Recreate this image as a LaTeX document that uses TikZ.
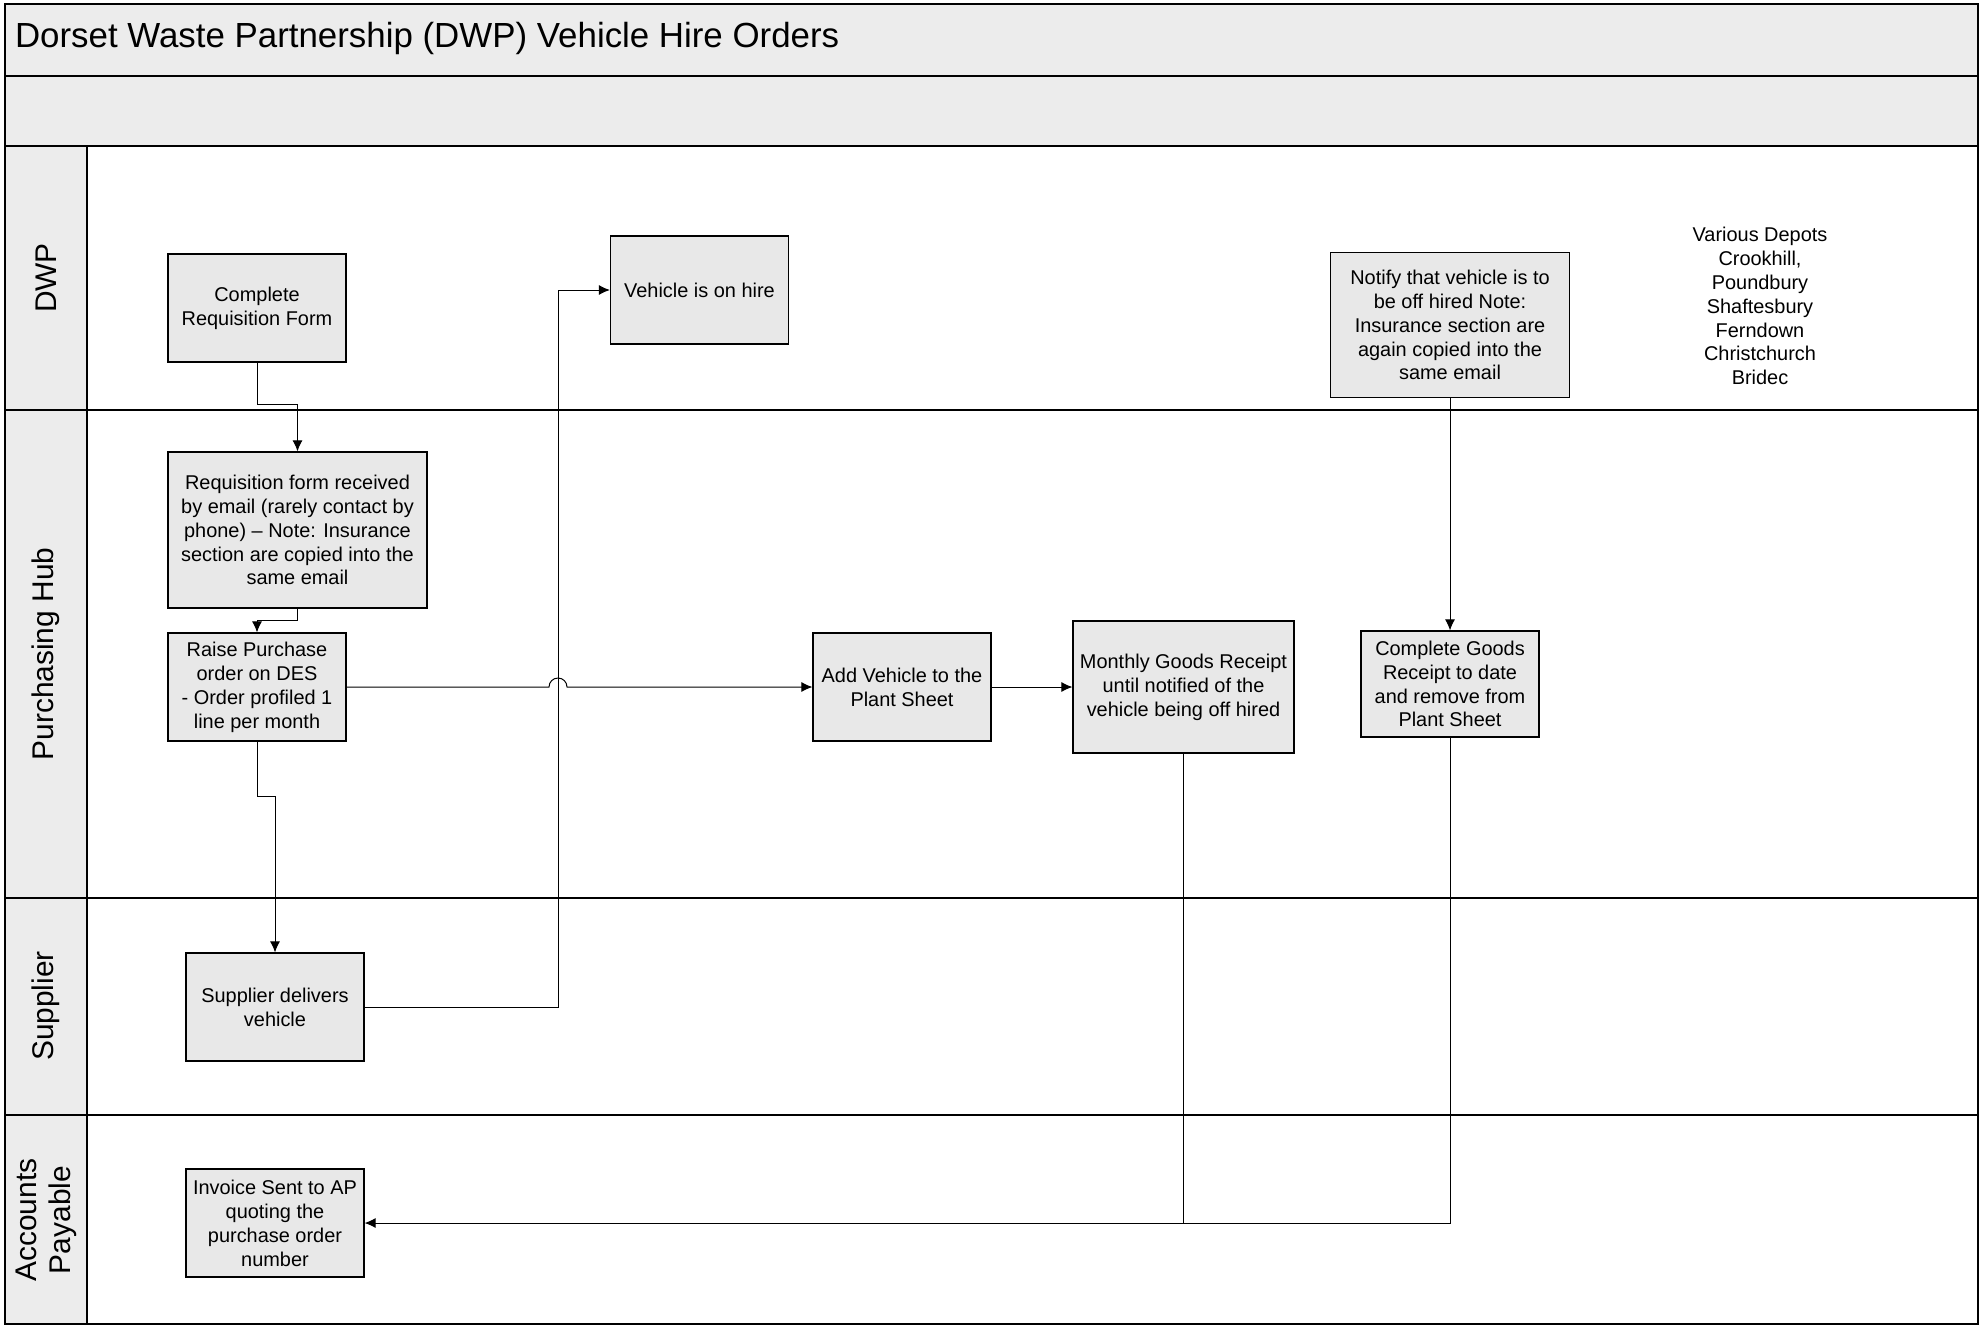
\documentclass[tikz,border=0pt]{standalone}
\usepackage{fontspec}
\setmainfont{Liberation Sans}
\usepackage{tikz}
\usetikzlibrary{calc, arrows.meta}
\definecolor{scangray}{RGB}{236,236,236}
\definecolor{boxgray}{RGB}{232,232,232}

\begin{document}
\begin{tikzpicture}[
    x=0.5bp, y=-0.5bp,
    lane/.style={draw, line width=0.8pt},
    lanelabel/.style={rotate=90, align=center, font=\fontsize{15}{17}\selectfont},
    task/.style={rectangle, draw, line width=0.6pt, fill=boxgray, align=center, inner sep=2pt, minimum width=89bp, minimum height=54bp, font=\fontsize{10}{12}\selectfont},
    arrow/.style={->, >={Latex[length=5.5bp, width=5bp]}, line width=0.5pt}
]
    \useasboundingbox (0,0) rectangle (1980,1326);

    % swimlane frame
    \fill[scangray] (5,4) rectangle (1978,146);
    \fill[scangray] (5,146) rectangle (87,1324);
    \draw[lane] (5,4) rectangle (1978,1324);
    \draw[lane] (5,76) -- (1978,76);
    \draw[lane] (5,146) -- (1978,146);
    \draw[lane] (5,410) -- (1978,410);
    \draw[lane] (5,898) -- (1978,898);
    \draw[lane] (5,1115) -- (1978,1115);
    \draw[lane] (87,146) -- (87,1324);

    \node[anchor=west, font=\fontsize{17.5}{20}\selectfont] (title) at (8,38) {Dorset Waste Partnership (DWP) Vehicle Hire Orders};

    \node[lanelabel] (lbldwp) at (46,278) {DWP};
    \node[lanelabel] (lblhub) at (46,654) {Purchasing Hub};
    \node[lanelabel] (lblsupp) at (46,1006) {Supplier};
    \node[lanelabel] (lblap) at (46,1220) {Accounts\\Payable};

    % tasks
    \node[task] (req) at (257,308) {Complete\\Requisition Form};
    \node[task, minimum width=129.5bp, minimum height=78bp] (recv) at (297.5,530) {Requisition form received\\by email (rarely contact by\\phone) -- Note: Insurance\\section are copied into the\\same email};
    \node[task] (raise) at (257,687) {Raise Purchase\\order on DES\\- Order profiled 1\\line per month};
    \node[task] (hire) at (699.5,290) {Vehicle is on hire};
    \node[task, minimum width=119.5bp, minimum height=72.5bp] (notify) at (1450,325) {Notify that vehicle is to\\be off hired Note:\\Insurance section are\\again copied into the\\same email};
    \node[task] (add) at (902,687) {Add Vehicle to the\\Plant Sheet};
    \node[task, minimum width=110.5bp, minimum height=66bp] (monthly) at (1183.5,687) {Monthly Goods Receipt\\until notified of the\\vehicle being off hired};
    \node[task, minimum height=53bp] (goods) at (1450,684) {Complete Goods\\Receipt to date\\and remove from\\Plant Sheet};
    \node[task] (supp) at (275,1007) {Supplier delivers\\vehicle};
    \node[task] (inv) at (275,1223) {Invoice Sent to AP\\quoting the\\purchase order\\number};

    \node[align=center, font=\fontsize{10}{12}\selectfont] (depots) at (1760,306) {Various Depots\\Crookhill,\\Poundbury\\Shaftesbury\\Ferndown\\Christchurch\\Bridec};

    % flow
    \coordinate (jog) at (558,290);
    \draw[arrow] (req.south) -- ++(0,42) -| (recv.north);
    \draw[arrow] (recv.south) -- ++(0,12) -| (raise.north);
    \draw[arrow] (raise.south) -- ++(0,55) -| (supp.north);
    \draw[arrow] (supp.east) -| (jog) -- (hire.west);
    \draw[arrow] (raise.east) -- ($(jog |- raise.east)+(-9,0)$) arc[start angle=180, end angle=0, radius=4.5bp] -- (add.west);
    \draw[arrow] (add) -- (monthly);
    \draw[arrow] (notify) -- (goods);
    \draw[line width=0.5pt] (monthly.south) -- (monthly.south |- inv.east);
    \draw[arrow] (goods.south) |- (inv.east);
\end{tikzpicture}
\end{document}
